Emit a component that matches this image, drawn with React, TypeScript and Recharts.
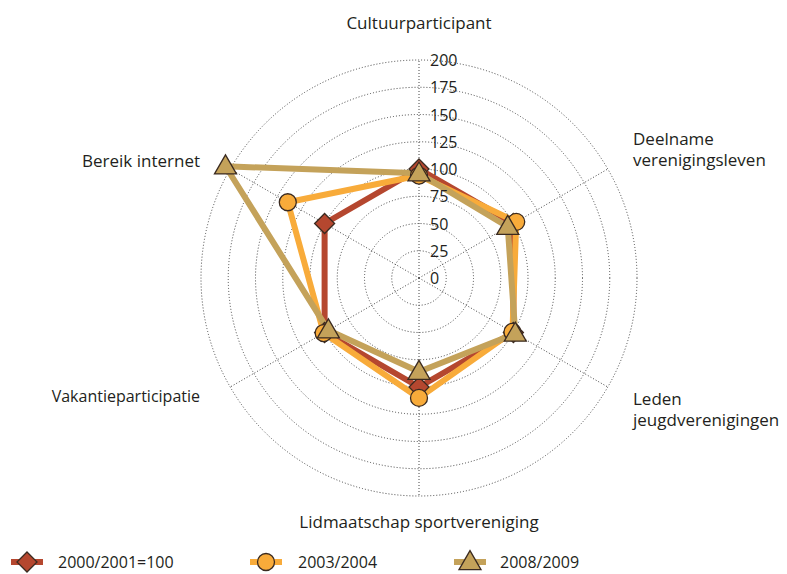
import React from 'react';
import { RadarChart, Radar, PolarGrid, PolarAngleAxis, PolarRadiusAxis, Legend } from 'recharts';

const categories = [
  'Cultuurparticipant',
  'Deelname verenigingsleven',
  'Leden jeugdverenigingen',
  'Lidmaatschap sportvereniging',
  'Vakantieparticipatie',
  'Bereik internet',
];
const categoryLines: string[][] = [
  ['Cultuurparticipant'],
  ['Deelname', 'verenigingsleven'],
  ['Leden', 'jeugdverenigingen'],
  ['Lidmaatschap sportvereniging'],
  ['Vakantieparticipatie'],
  ['Bereik internet'],
];
const series2000 = [100, 100, 100, 100, 100, 100];
const series2003 = [94, 103, 99, 110, 101, 139];
const series2008 = [96, 94, 102, 86, 96, 205];
const radiusTicks = [0, 25, 50, 75, 100, 125, 150, 175, 200];
const seriesNames = ['2000/2001=100', '2003/2004', '2008/2009'];

const data = categories.map((c, i) => ({
  name: c,
  s2000: series2000[i],
  s2003: series2003[i],
  s2008: series2008[i],
}));

const CX = 411;
const CY = 270;
const R = 218;
const FONT = '"Open Sans", sans-serif';
const TEXT = '#231f20';
const COLORS = ['#b5472f', '#f8ab3a', '#c4a25a'];
const STROKE = '#3a2a20';

// label anchor offsets relative to the chart centre (layout only)
const labelLayout = [
  { dx: 0, dy: -256, anchor: 'middle' },
  { dx: 214, dy: -130, anchor: 'start' },
  { dx: 214, dy: 130, anchor: 'start' },
  { dx: 0, dy: 243, anchor: 'middle' },
  { dx: -219, dy: 118, anchor: 'end' },
  { dx: -219, dy: -118, anchor: 'end' },
];

const AngleTick = (props: any) => {
  const idx = categories.indexOf(props.payload.value);
  const lay = labelLayout[idx];
  const lines = categoryLines[idx];
  const lh = 21;
  const y0 = CY + lay.dy - ((lines.length - 1) * lh) / 2;
  return (
    <text
      x={CX + lay.dx}
      y={y0}
      textAnchor={lay.anchor as any}
      dominantBaseline="central"
      fontFamily={FONT}
      fontSize={idx === 4 ? 16 : 17}
      fill={TEXT}
    >
      {lines.map((l, i) => (
        <tspan key={i} x={CX + lay.dx} y={y0 + i * lh}>
          {l}
        </tspan>
      ))}
    </text>
  );
};

const RadiusTick = (props: any) => (
  <text
    x={props.x + 11}
    y={props.y}
    textAnchor="start"
    dominantBaseline="central"
    fontFamily={FONT}
    fontSize={16}
    fill={TEXT}
  >
    {props.payload.value}
  </text>
);

const Marker = ({ kind, x, y, color }: { kind: number; x: number; y: number; color: string }) => {
  if (kind === 0) {
    const s = 10;
    return (
      <polygon
        points={`${x},${y - s} ${x + s},${y} ${x},${y + s} ${x - s},${y}`}
        fill={color}
        stroke={STROKE}
        strokeWidth={1.3}
      />
    );
  }
  if (kind === 1) {
    return <circle cx={x} cy={y} r={8.5} fill={color} stroke={STROKE} strokeWidth={1.3} />;
  }
  const h = 19;
  const w = 22;
  return (
    <polygon
      points={`${x},${y - h * 0.6} ${x + w / 2},${y + h * 0.4} ${x - w / 2},${y + h * 0.4}`}
      fill={color}
      stroke={STROKE}
      strokeWidth={1.3}
    />
  );
};

const makeDot = (kind: number) => (props: any) => (
  <Marker key={`${kind}-${props.index}`} kind={kind} x={props.cx} y={props.cy} color={COLORS[kind]} />
);

const legendX = [[11, 43, 27, 58], [250, 282, 266, 298], [454, 486, 470, 500]];

const LegendContent = () => (
  <svg width={779} height={22} style={{ display: 'block', overflow: 'visible' }}>
    {seriesNames.map((n, i) => {
      const [x1, x2, mx, tx] = legendX[i];
      return (
        <g key={n}>
          <line x1={x1 - 8} x2={x2 - 8} y1={11} y2={11} stroke={COLORS[i]} strokeWidth={6} />
          <Marker kind={i} x={mx - 8} y={11} color={COLORS[i]} />
          <text x={tx - 8} y={11} dominantBaseline="central" fontFamily={FONT} fontSize={16} fill={TEXT}>
            {n}
          </text>
        </g>
      );
    })}
  </svg>
);

export default function App() {
  return (
    <div style={{ width: 779, height: 566, position: 'relative' }}>
      <RadarChart
        width={779}
        height={566}
        data={data}
        cx={CX}
        cy={CY}
        outerRadius={R}
        startAngle={90}
        endAngle={-270}
        margin={{ top: 0, right: 0, bottom: 0, left: 0 }}
      >
        <PolarGrid gridType="circle" stroke="#444" strokeDasharray="1 2" strokeWidth={1} />
        <PolarAngleAxis dataKey="name" tick={<AngleTick />} tickLine={false} axisLine={false} />
        <PolarRadiusAxis
          angle={90}
          domain={[0, 200]}
          ticks={radiusTicks}
          tickCount={9}
          allowDataOverflow
          axisLine={false}
          tickLine={false}
          tick={<RadiusTick />}
        />
        <Radar
          name={seriesNames[0]}
          dataKey="s2000"
          stroke={COLORS[0]}
          strokeWidth={6}
          strokeLinejoin="round"
          fill="none"
          fillOpacity={0}
          dot={makeDot(0)}
          isAnimationActive={false}
        />
        <Radar
          name={seriesNames[1]}
          dataKey="s2003"
          stroke={COLORS[1]}
          strokeWidth={6}
          strokeLinejoin="round"
          fill="none"
          fillOpacity={0}
          dot={makeDot(1)}
          isAnimationActive={false}
        />
        <Radar
          name={seriesNames[2]}
          dataKey="s2008"
          stroke={COLORS[2]}
          strokeWidth={6}
          strokeLinejoin="round"
          fill="none"
          fillOpacity={0}
          dot={makeDot(2)}
          isAnimationActive={false}
        />
        <Legend
          content={<LegendContent />}
          wrapperStyle={{ position: 'absolute', left: 0, top: 543, width: 779, height: 22 }}
        />
      </RadarChart>
    </div>
  );
}
